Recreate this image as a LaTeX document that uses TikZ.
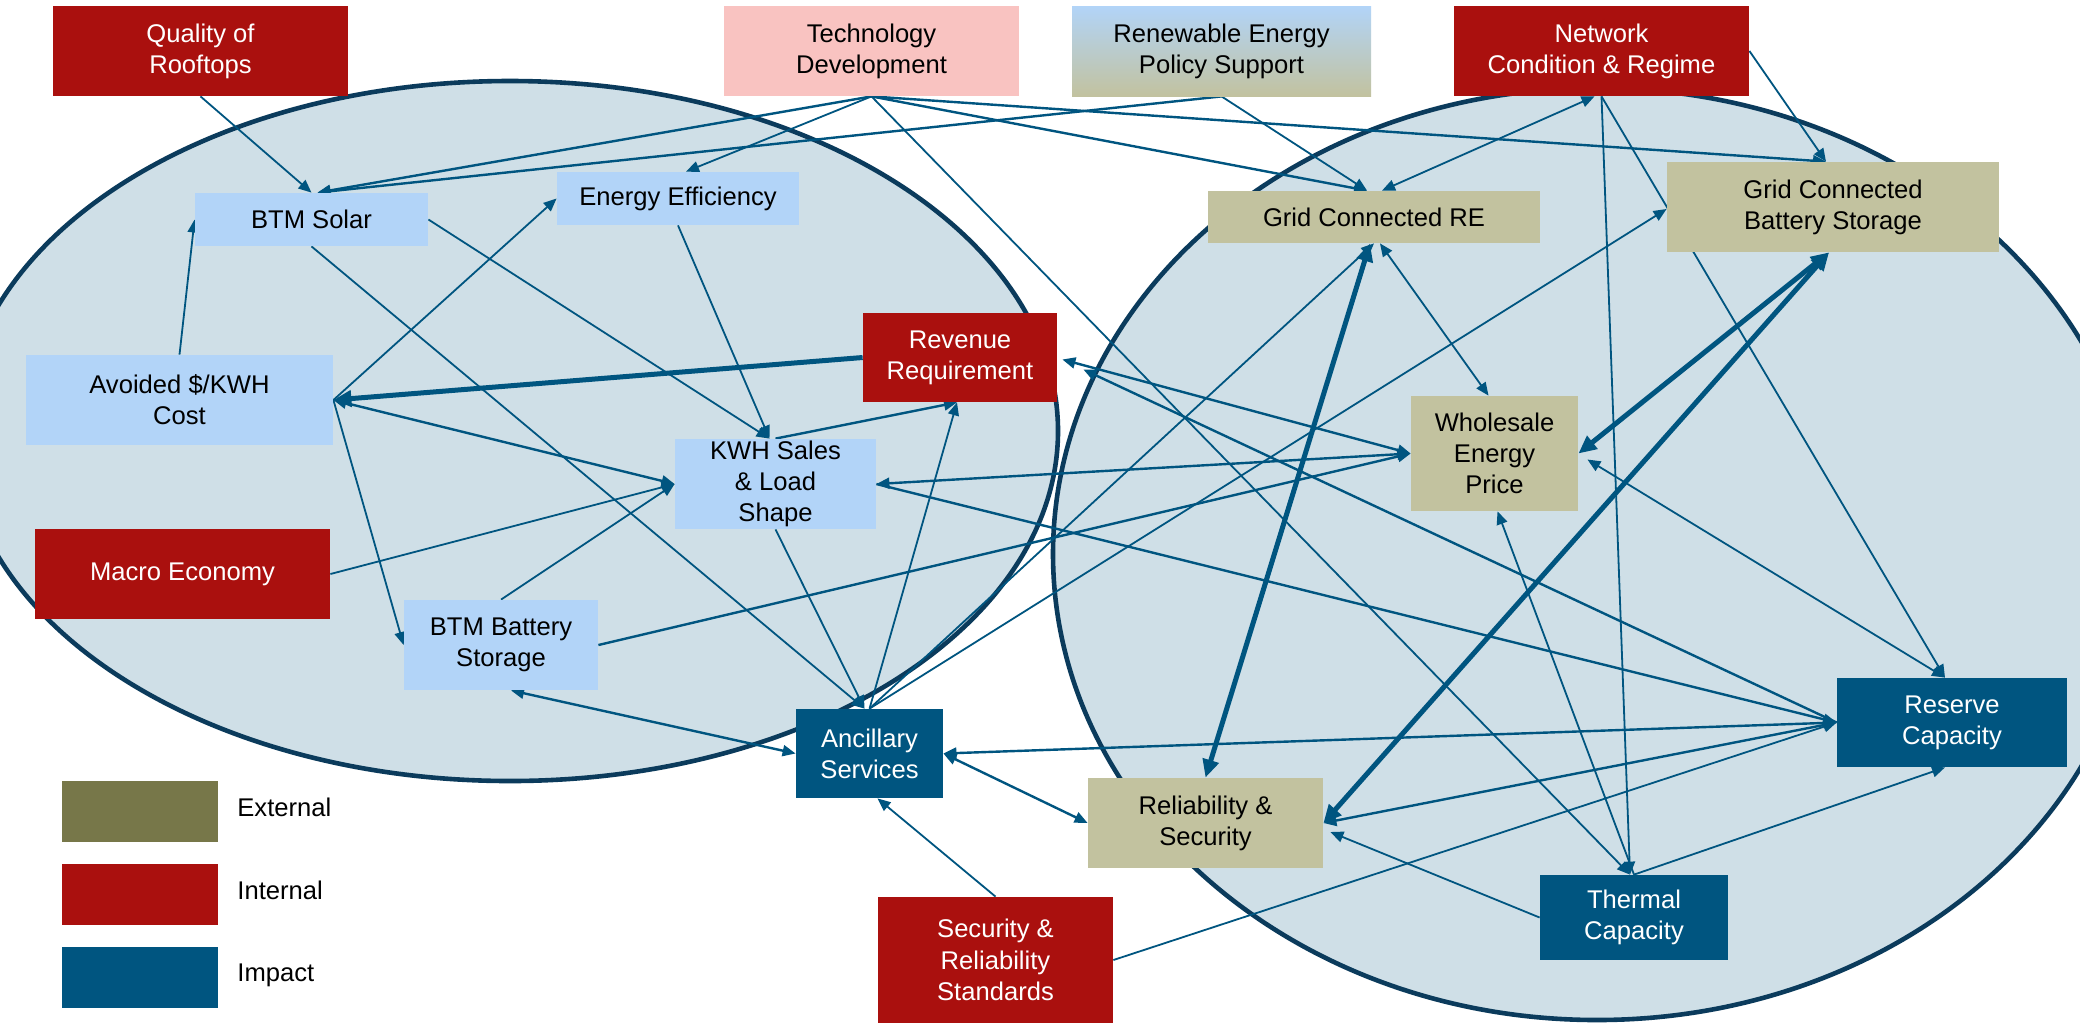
\documentclass[tikz,border=0pt]{standalone}
\usepackage{fontspec}
\setmainfont{Liberation Sans}
\usetikzlibrary{arrows.meta,calc}
\definecolor{dred}{HTML}{AA100E}
\definecolor{pinkc}{HTML}{F9C3C1}
\definecolor{lblue}{HTML}{B2D4F8}
\definecolor{khaki}{HTML}{C2C29F}
\definecolor{olive}{HTML}{777749}
\definecolor{impact}{HTML}{005580}
\definecolor{ellfill}{HTML}{CFDFE7}
\definecolor{ellborder}{HTML}{0B3B5C}
\definecolor{lc}{HTML}{005580}
\pgfdeclarelayer{bg}
\pgfdeclarelayer{edges}
\pgfsetlayers{bg,edges,main}
\begin{document}
\begin{tikzpicture}[x=0.5pt,y=-0.5pt,
  bx/.style={draw=none,inner sep=0pt,align=center,font=\fontsize{12.8pt}{15.6pt}\selectfont},
  wh/.style 2 args={minimum width=#1*0.5pt,minimum height=#2*0.5pt},
  lgtext/.style={anchor=base west,inner sep=0pt,font=\fontsize{12.8pt}{15.6pt}\selectfont},
  ell/.style={fill=ellfill,draw=ellborder,line width=2.3pt},
  ln/.style={draw=lc,line width=0.9pt},
  md/.style={draw=lc,line width=1.2pt},
  tk/.style={draw=lc,line width=2.5pt},
  oneway/.style={-{Triangle[length=6.5pt,width=5.5pt]}},
  twoway/.style={{Triangle[length=6.5pt,width=5.5pt]}-{Triangle[length=6.5pt,width=5.5pt]}},
  thickone/.style={-{Triangle[length=9pt,width=8pt]}},
  thickway/.style={{Triangle[length=9pt,width=8pt]}-{Triangle[length=9pt,width=8pt]}}
]
\useasboundingbox (0,0) rectangle (2080,1024);

\begin{pgfonlayer}{bg}
\fill[white] (0,0) rectangle (2080,1024);
\draw[ell] (510,431) ellipse [x radius=274pt, y radius=175pt];
\draw[ell] (1597,554) ellipse [x radius=272pt, y radius=233pt];
\end{pgfonlayer}

% nodes
\node[bx,fill=dred,text=white,wh={295}{90}] (qual) at (200.5,51) {Quality of\\Rooftops};
\node[bx,fill=pinkc,wh={295}{90}] (tech) at (871.5,51) {Technology\\Development};
\node[bx,top color=lblue,middle color=lblue,bottom color=khaki,wh={299}{90}] (repol) at (1221.5,51) {Renewable Energy\\Policy Support};
\node[bx,fill=dred,text=white,wh={295}{90}] (net) at (1601.5,51) {Network\\Condition \& Regime};
\node[bx,fill=lblue,wh={233}{53}] (btms) at (311.5,219.5) {BTM Solar};
\node[bx,fill=lblue,wh={242}{53}] (ee) at (678,198.5) {Energy Efficiency};
\node[bx,fill=lblue,wh={307}{90}] (avoid) at (179.5,400) {Avoided \$/KWH\\Cost};
\node[bx,fill=dred,text=white,wh={194}{89}] (rev) at (960,357.5) {Revenue\\Requirement};
\node[bx,fill=lblue,wh={201}{90}] (kwh) at (775.5,484) {KWH Sales\\\& Load\\Shape};
\node[bx,fill=dred,text=white,wh={295}{90}] (macro) at (182.5,574) {Macro Economy};
\node[bx,fill=lblue,wh={194}{90}] (btmb) at (501,645) {BTM Battery\\Storage};
\node[bx,fill=impact,text=white,wh={147}{89}] (anc) at (869.5,753.5) {Ancillary\\Services};
\node[bx,fill=dred,text=white,wh={235}{126}] (sec) at (995.5,960) {Security \&\\Reliability\\Standards};
\node[bx,fill=khaki,wh={332}{52}] (gre) at (1374,217) {Grid Connected RE};
\node[bx,fill=khaki,wh={332}{90}] (gbs) at (1833,207) {Grid Connected\\Battery Storage};
\node[bx,fill=khaki,wh={167}{115}] (wep) at (1494.5,453.5) {Wholesale\\Energy\\Price};
\node[bx,fill=impact,text=white,wh={230}{89}] (res) at (1952,722.5) {Reserve\\Capacity};
\node[bx,fill=khaki,wh={235}{90}] (rel) at (1205.5,823) {Reliability \&\\Security};
\node[bx,fill=impact,text=white,wh={188}{85}] (thc) at (1634,917.5) {Thermal\\Capacity};

% legend
\node[bx,fill=olive,wh={156}{61}] (lext) at (140,811.5) {};
\node[bx,fill=dred,wh={156}{61}] (lint) at (140,894.5) {};
\node[bx,fill=impact,wh={156}{61}] (limp) at (140,977.5) {};
\node[lgtext] (text) at (237,816) {External};
\node[lgtext] (tint) at (237,899) {Internal};
\node[lgtext] (timp) at (237,981) {Impact};

\begin{pgfonlayer}{edges}
\draw[ln,oneway] (qual.south) -- (btms.north);
\draw[md,oneway] (tech.south) -- ($(btms.north)+(6,0)$);
\draw[md,oneway] (repol.south) -- ($(btms.north)+(6,0)$);
\draw[ln,oneway] (tech.south) -- ($(ee.north)+(8,0)$);
\draw[md,oneway] (tech.south) -- ($(gre.north)+(-7,0)$);
\draw[ln,oneway] (repol.south) -- ($(gre.north)+(-7,0)$);
\draw[md,oneway] (tech.south) -- ($(gbs.north)+(-7,0)$);
\draw[ln,oneway] (tech.south) -- ($(thc.north)+(-4,0)$);
\draw[ln,twoway] ($(net.south)+(-7,0)$) -- ($(gre.north)+(8,0)$);
\draw[ln,oneway] (net.east) -- ($(gbs.north)+(-7,0)$);
\draw[ln,oneway] (net.south) -- ($(thc.north)+(-4,0)$);
\draw[ln,oneway] (net.south) -- ($(res.north)+(-7,0)$);
\draw[ln,oneway] (avoid.north) -- (btms.west);
\draw[ln,oneway] (avoid.east) -- (ee.west);
\draw[ln,oneway] (avoid.east) -- (btmb.west);
\draw[md,twoway] (avoid.east) -- (kwh.west);
\draw[tk,thickone] (rev.west) -- (avoid.east);
\draw[ln,oneway] (btms.east) -- ($(kwh.north)+(-6,0)$);
\draw[ln,oneway] (btms.south) -- ($(anc.north)+(-5,0)$);
\draw[ln,oneway] (ee.south) -- ($(kwh.north)+(-6,0)$);
\draw[md,oneway] (kwh.north) -- ($(rev.south)+(-3,0)$);
\draw[ln,oneway] (kwh.south) -- ($(anc.north)+(-5,0)$);
\draw[ln,oneway] (anc.north) -- ($(rev.south)+(-3,0)$);
\draw[md,twoway] (kwh.east) -- (wep.west);
\draw[md,oneway] (kwh.east) -- (res.west);
\draw[ln,oneway] (macro.east) -- (kwh.west);
\draw[ln,oneway] (btmb.north) -- (kwh.west);
\draw[md,oneway] (btmb.east) -- (wep.west);
\draw[md,twoway] ($(btmb.south)+(10,0)$) -- (anc.west);
\draw[md,twoway] ($(rev.east)+(5,2)$) -- (wep.west);
\draw[md,oneway] (res.west) -- ($(rev.east)+(26,12)$);
\draw[ln,oneway] (anc.north) -- (gre.south);
\draw[ln,oneway] (anc.north) -- ($(gbs.west)+(0,2)$);
\draw[tk,thickway] ($(gre.south)+(-4,0)$) -- (rel.north);
\draw[ln,twoway] ($(gre.south)+(6,0)$) -- ($(wep.north)+(-6,0)$);
\draw[tk,thickway] ($(gbs.south)+(-4,0)$) -- (wep.east);
\draw[tk,thickway] ($(gbs.south)+(-4,0)$) -- (rel.east);
\draw[ln,twoway] ($(wep.east)+(9,6)$) -- ($(res.north)+(-7,0)$);
\draw[ln,oneway] (thc.north) -- ($(wep.south)+(3,0)$);
\draw[ln,oneway] (thc.north) -- ($(res.south)+(-7,0)$);
\draw[ln,oneway] (thc.west) -- ($(rel.east)+(7,9)$);
\draw[md,twoway] (rel.east) -- (res.west);
\draw[md,twoway] (anc.east) -- (res.west);
\draw[md,twoway] (anc.east) -- (rel.west);
\draw[ln,oneway] (sec.north) -- ($(anc.south)+(8,0)$);
\draw[ln,oneway] (sec.east) -- (res.west);
\end{pgfonlayer}
\end{tikzpicture}
\end{document}
